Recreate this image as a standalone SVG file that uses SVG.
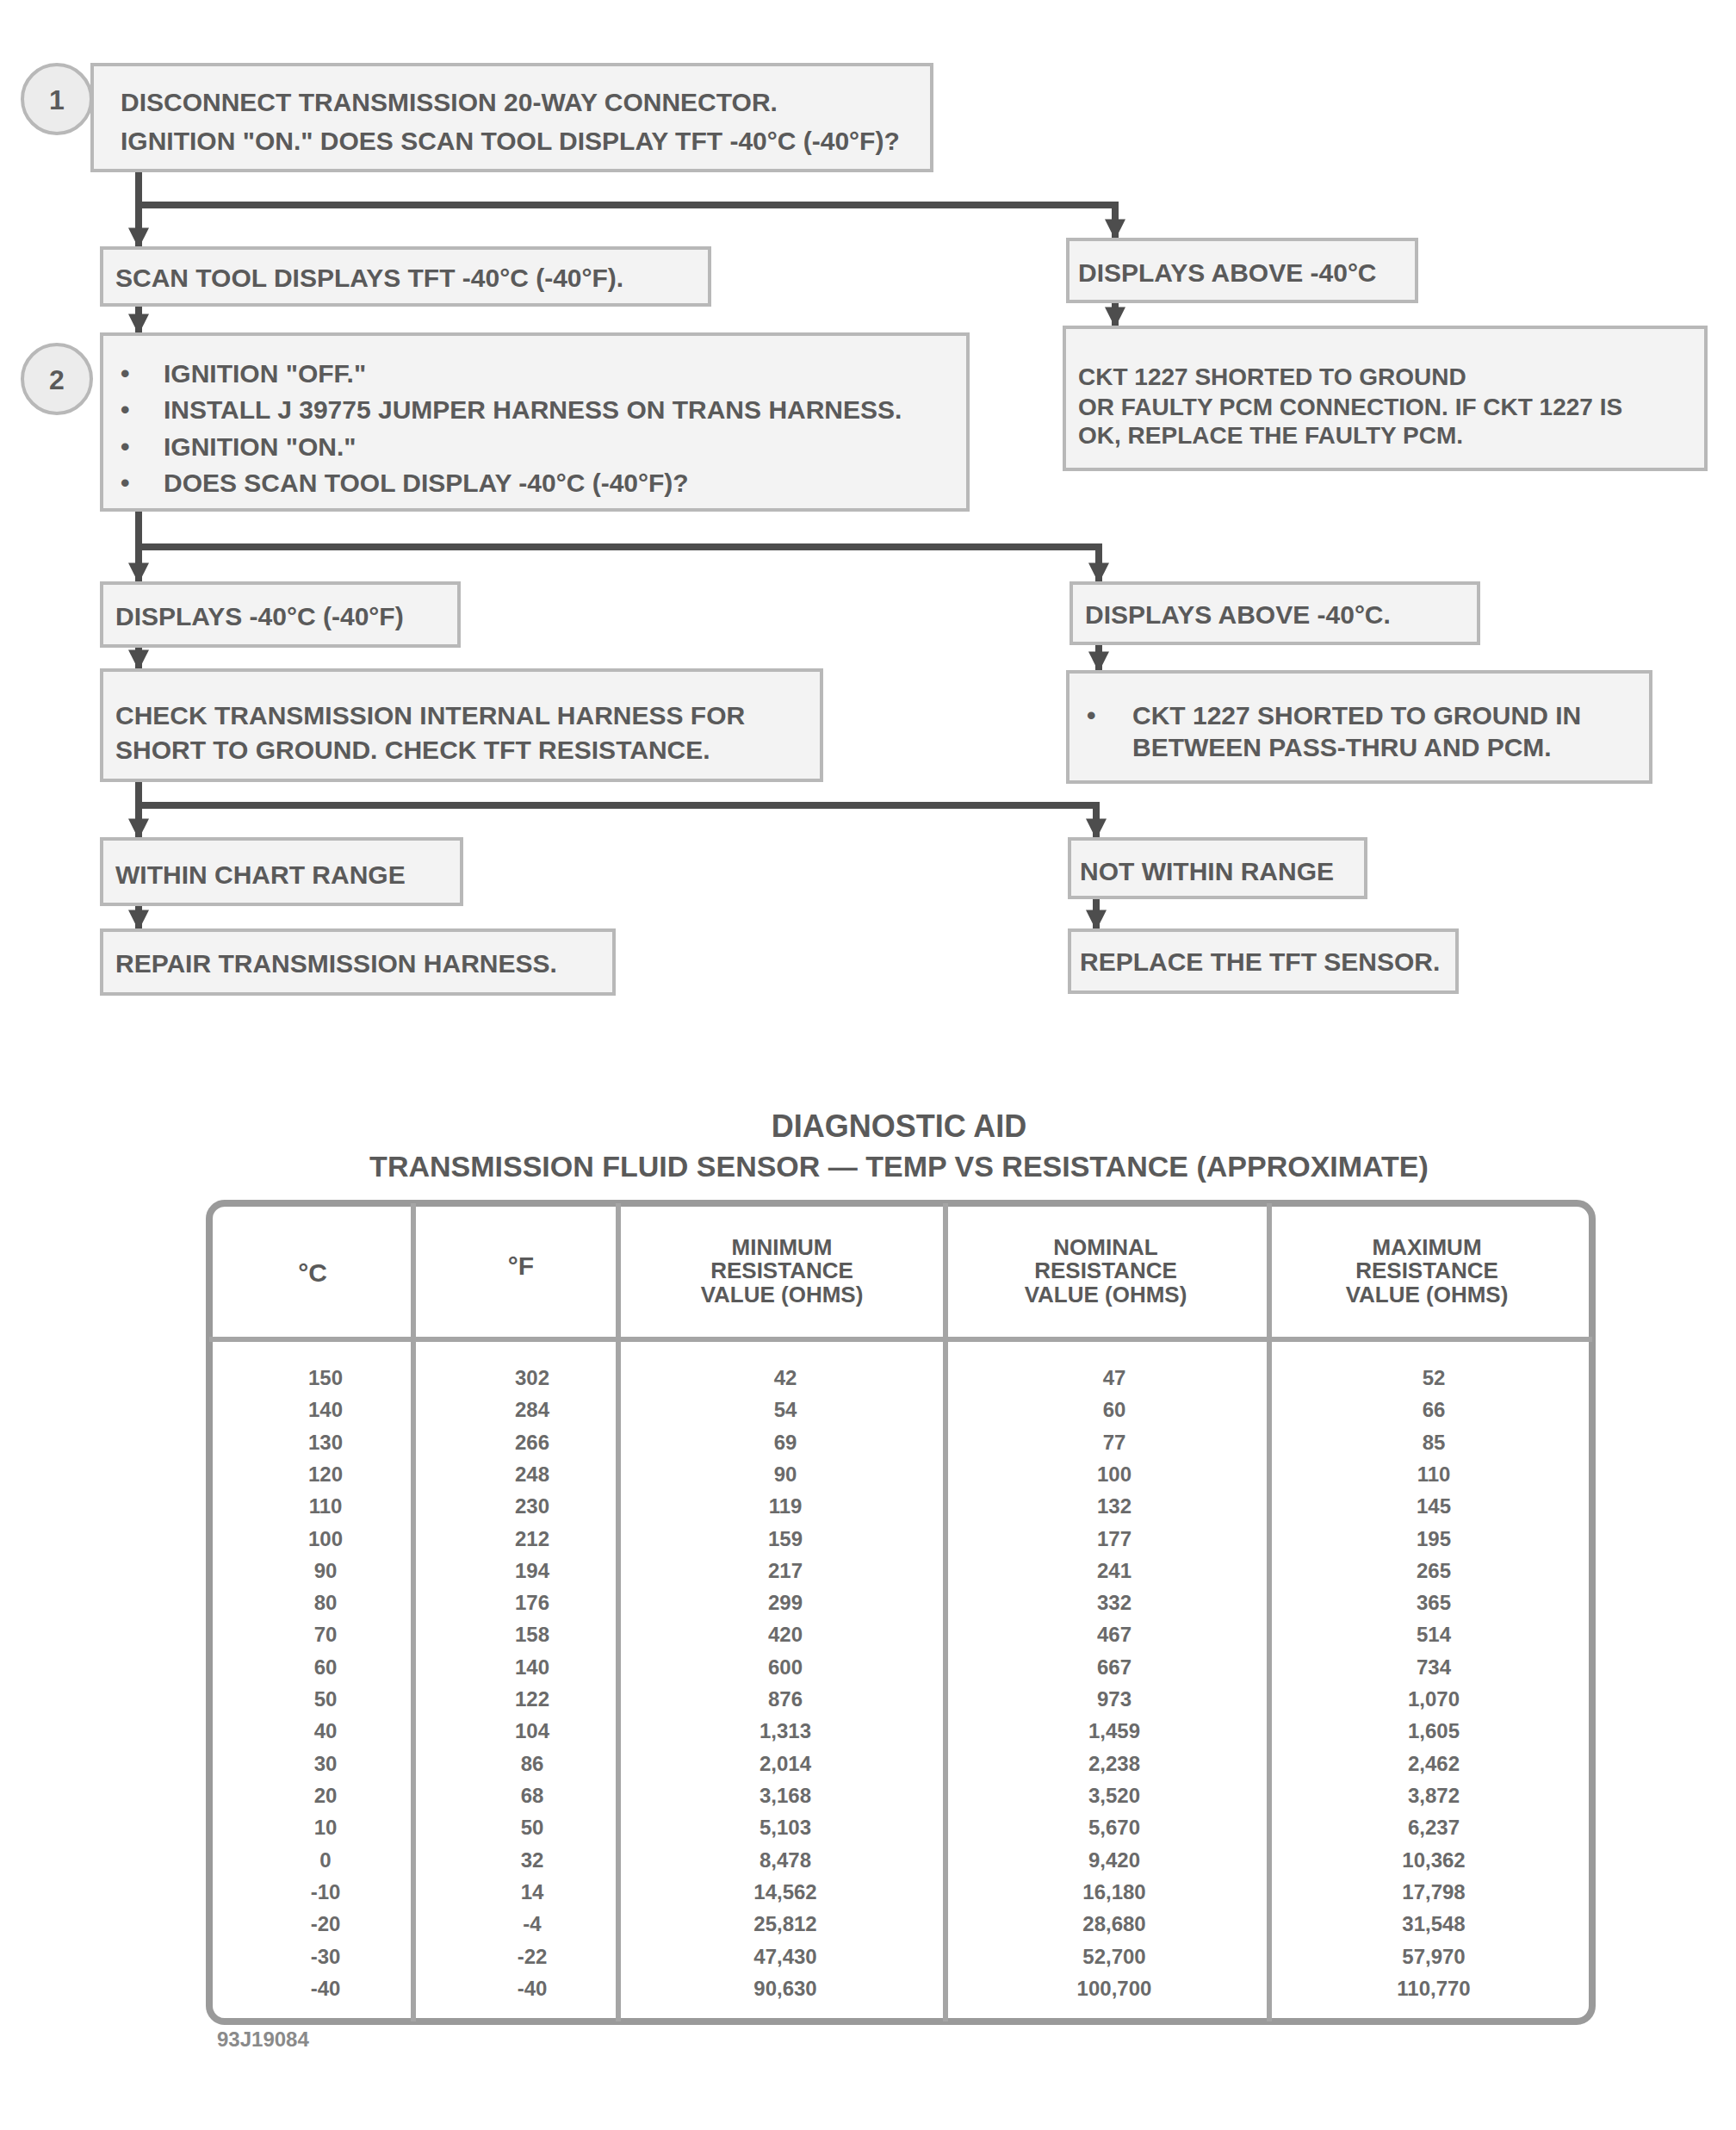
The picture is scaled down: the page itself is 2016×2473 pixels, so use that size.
<svg xmlns="http://www.w3.org/2000/svg" width="2016" height="2473" viewBox="0 0 2016 2473">
<style>
.bx{fill:#f3f3f3;stroke:#b8b8b8;stroke-width:4}
.ci{fill:#ececec;stroke:#b8b8b8;stroke-width:4}
.t{font-family:"Liberation Sans",Arial,sans-serif;font-weight:bold;font-size:30px;fill:#5a5a5a}
.ts{font-size:28px}
.cn{fill:none;stroke:#4d4d4d;stroke-width:8;stroke-linejoin:miter}
.tt{font-family:"Liberation Sans",Arial,sans-serif;font-weight:bold;fill:#5a5a5a;text-anchor:middle}
.hd{font-size:26px}
.dt{font-family:"Liberation Sans",Arial,sans-serif;font-weight:bold;font-size:24px;fill:#6a6a6a;text-anchor:middle}
.tb{fill:none;stroke:#9a9a9a;stroke-width:8}
.tl{stroke:#a5a5a5;stroke-width:6}
</style>
<defs>
<marker id="ah" viewBox="0 0 10 10" refX="9" refY="5" markerWidth="3" markerHeight="3" orient="auto" markerUnits="strokeWidth">
<path d="M0,0 L10,5 L0,10 z" fill="#4d4d4d"/>
</marker>
</defs>
<rect width="2016" height="2473" fill="#ffffff"/>

<g id="connectors">
<path class="cn" d="M161,198 V286" marker-end="url(#ah)"/>
<path class="cn" d="M161,238 H1295 V276" marker-end="url(#ah)"/>
<path class="cn" d="M161,354 V386" marker-end="url(#ah)"/>
<path class="cn" d="M1295,350 V378" marker-end="url(#ah)"/>
<path class="cn" d="M161,592 V675" marker-end="url(#ah)"/>
<path class="cn" d="M161,635 H1276 V675" marker-end="url(#ah)"/>
<path class="cn" d="M161,750 V776" marker-end="url(#ah)"/>
<path class="cn" d="M1276,747 V778" marker-end="url(#ah)"/>
<path class="cn" d="M161,906 V972" marker-end="url(#ah)"/>
<path class="cn" d="M161,935 H1273 V972" marker-end="url(#ah)"/>
<path class="cn" d="M161,1050 V1078" marker-end="url(#ah)"/>
<path class="cn" d="M1273,1042 V1078" marker-end="url(#ah)"/>
</g>

<g id="step1">
<circle class="ci" cx="66" cy="115" r="40"/>
<text class="tt" x="66" y="127" font-size="32">1</text>
</g>
<g id="nodeA">
<rect class="bx" x="107" y="75" width="975" height="123"/>
<text class="t" x="140" y="129">DISCONNECT TRANSMISSION 20-WAY CONNECTOR.</text>
<text class="t" x="140" y="174">IGNITION "ON." DOES SCAN TOOL DISPLAY TFT -40°C (-40°F)?</text>
</g>
<g id="nodeB">
<rect class="bx" x="118" y="288" width="706" height="66"/>
<text class="t" x="134" y="333">SCAN TOOL DISPLAYS TFT -40°C (-40°F).</text>
</g>
<g id="nodeC">
<rect class="bx" x="1240" y="278" width="405" height="72"/>
<text class="t" x="1252" y="327">DISPLAYS ABOVE -40°C</text>
</g>
<g id="step2">
<circle class="ci" cx="66" cy="440" r="40"/>
<text class="tt" x="66" y="452" font-size="32">2</text>
</g>
<g id="nodeD">
<rect class="bx" x="118" y="388" width="1006" height="204"/>
<text class="t" x="140" y="444">•</text>
<text class="t" x="190" y="444">IGNITION "OFF."</text>
<text class="t" x="140" y="486">•</text>
<text class="t" x="190" y="486">INSTALL J 39775 JUMPER HARNESS ON TRANS HARNESS.</text>
<text class="t" x="140" y="529">•</text>
<text class="t" x="190" y="529">IGNITION "ON."</text>
<text class="t" x="140" y="571">•</text>
<text class="t" x="190" y="571">DOES SCAN TOOL DISPLAY -40°C (-40°F)?</text>
</g>
<g id="nodeE">
<rect class="bx" x="1236" y="380" width="745" height="165"/>
<text class="t ts" x="1252" y="447">CKT 1227 SHORTED TO GROUND</text>
<text class="t ts" x="1252" y="482">OR FAULTY PCM CONNECTION. IF CKT 1227 IS</text>
<text class="t ts" x="1252" y="515">OK, REPLACE THE FAULTY PCM.</text>
</g>
<g id="nodeF">
<rect class="bx" x="118" y="677" width="415" height="73"/>
<text class="t" x="134" y="726">DISPLAYS -40°C (-40°F)</text>
</g>
<g id="nodeG">
<rect class="bx" x="1244" y="677" width="473" height="70"/>
<text class="t" x="1260" y="724">DISPLAYS ABOVE -40°C.</text>
</g>
<g id="nodeH">
<rect class="bx" x="118" y="778" width="836" height="128"/>
<text class="t" x="134" y="841">CHECK TRANSMISSION INTERNAL HARNESS FOR</text>
<text class="t" x="134" y="881">SHORT TO GROUND. CHECK TFT RESISTANCE.</text>
</g>
<g id="nodeI">
<rect class="bx" x="1240" y="780" width="677" height="128"/>
<text class="t" x="1262" y="841">•</text>
<text class="t" x="1315" y="841">CKT 1227 SHORTED TO GROUND IN</text>
<text class="t" x="1315" y="878">BETWEEN PASS-THRU AND PCM.</text>
</g>
<g id="nodeJ">
<rect class="bx" x="118" y="974" width="418" height="76"/>
<text class="t" x="134" y="1026">WITHIN CHART RANGE</text>
</g>
<g id="nodeK">
<rect class="bx" x="1242" y="974" width="344" height="68"/>
<text class="t" x="1254" y="1022">NOT WITHIN RANGE</text>
</g>
<g id="nodeL">
<rect class="bx" x="118" y="1080" width="595" height="74"/>
<text class="t" x="134" y="1129">REPAIR TRANSMISSION HARNESS.</text>
</g>
<g id="nodeM">
<rect class="bx" x="1242" y="1080" width="450" height="72"/>
<text class="t" x="1254" y="1127">REPLACE THE TFT SENSOR.</text>
</g>

<g id="table">
<text class="tt" x="1044" y="1320" font-size="36">DIAGNOSTIC AID</text>
<text class="tt" x="1044" y="1366" font-size="34">TRANSMISSION FLUID SENSOR — TEMP VS RESISTANCE (APPROXIMATE)</text>
<rect class="tb" x="243" y="1397" width="1606" height="950" rx="18"/>
<line class="tl" x1="480" y1="1397" x2="480" y2="2347"/>
<line class="tl" x1="718" y1="1397" x2="718" y2="2347"/>
<line class="tl" x1="1098" y1="1397" x2="1098" y2="2347"/>
<line class="tl" x1="1474" y1="1397" x2="1474" y2="2347"/>
<line class="tl" x1="243" y1="1555" x2="1849" y2="1555" stroke-width="8"/>
<text class="tt" x="363" y="1488" font-size="30">°C</text>
<text class="tt" x="605" y="1480" font-size="30">°F</text>
<text class="tt hd" x="908" y="1457">MINIMUM</text>
<text class="tt hd" x="908" y="1484">RESISTANCE</text>
<text class="tt hd" x="908" y="1512">VALUE (OHMS)</text>
<text class="tt hd" x="1284" y="1457">NOMINAL</text>
<text class="tt hd" x="1284" y="1484">RESISTANCE</text>
<text class="tt hd" x="1284" y="1512">VALUE (OHMS)</text>
<text class="tt hd" x="1657" y="1457">MAXIMUM</text>
<text class="tt hd" x="1657" y="1484">RESISTANCE</text>
<text class="tt hd" x="1657" y="1512">VALUE (OHMS)</text>
<g>
<text class="dt" x="378" y="1608">150</text><text class="dt" x="618" y="1608">302</text><text class="dt" x="912" y="1608">42</text><text class="dt" x="1294" y="1608">47</text><text class="dt" x="1665" y="1608">52</text>
<text class="dt" x="378" y="1645">140</text><text class="dt" x="618" y="1645">284</text><text class="dt" x="912" y="1645">54</text><text class="dt" x="1294" y="1645">60</text><text class="dt" x="1665" y="1645">66</text>
<text class="dt" x="378" y="1683">130</text><text class="dt" x="618" y="1683">266</text><text class="dt" x="912" y="1683">69</text><text class="dt" x="1294" y="1683">77</text><text class="dt" x="1665" y="1683">85</text>
<text class="dt" x="378" y="1720">120</text><text class="dt" x="618" y="1720">248</text><text class="dt" x="912" y="1720">90</text><text class="dt" x="1294" y="1720">100</text><text class="dt" x="1665" y="1720">110</text>
<text class="dt" x="378" y="1757">110</text><text class="dt" x="618" y="1757">230</text><text class="dt" x="912" y="1757">119</text><text class="dt" x="1294" y="1757">132</text><text class="dt" x="1665" y="1757">145</text>
<text class="dt" x="378" y="1795">100</text><text class="dt" x="618" y="1795">212</text><text class="dt" x="912" y="1795">159</text><text class="dt" x="1294" y="1795">177</text><text class="dt" x="1665" y="1795">195</text>
<text class="dt" x="378" y="1832">90</text><text class="dt" x="618" y="1832">194</text><text class="dt" x="912" y="1832">217</text><text class="dt" x="1294" y="1832">241</text><text class="dt" x="1665" y="1832">265</text>
<text class="dt" x="378" y="1869">80</text><text class="dt" x="618" y="1869">176</text><text class="dt" x="912" y="1869">299</text><text class="dt" x="1294" y="1869">332</text><text class="dt" x="1665" y="1869">365</text>
<text class="dt" x="378" y="1906">70</text><text class="dt" x="618" y="1906">158</text><text class="dt" x="912" y="1906">420</text><text class="dt" x="1294" y="1906">467</text><text class="dt" x="1665" y="1906">514</text>
<text class="dt" x="378" y="1944">60</text><text class="dt" x="618" y="1944">140</text><text class="dt" x="912" y="1944">600</text><text class="dt" x="1294" y="1944">667</text><text class="dt" x="1665" y="1944">734</text>
<text class="dt" x="378" y="1981">50</text><text class="dt" x="618" y="1981">122</text><text class="dt" x="912" y="1981">876</text><text class="dt" x="1294" y="1981">973</text><text class="dt" x="1665" y="1981">1,070</text>
<text class="dt" x="378" y="2018">40</text><text class="dt" x="618" y="2018">104</text><text class="dt" x="912" y="2018">1,313</text><text class="dt" x="1294" y="2018">1,459</text><text class="dt" x="1665" y="2018">1,605</text>
<text class="dt" x="378" y="2056">30</text><text class="dt" x="618" y="2056">86</text><text class="dt" x="912" y="2056">2,014</text><text class="dt" x="1294" y="2056">2,238</text><text class="dt" x="1665" y="2056">2,462</text>
<text class="dt" x="378" y="2093">20</text><text class="dt" x="618" y="2093">68</text><text class="dt" x="912" y="2093">3,168</text><text class="dt" x="1294" y="2093">3,520</text><text class="dt" x="1665" y="2093">3,872</text>
<text class="dt" x="378" y="2130">10</text><text class="dt" x="618" y="2130">50</text><text class="dt" x="912" y="2130">5,103</text><text class="dt" x="1294" y="2130">5,670</text><text class="dt" x="1665" y="2130">6,237</text>
<text class="dt" x="378" y="2168">0</text><text class="dt" x="618" y="2168">32</text><text class="dt" x="912" y="2168">8,478</text><text class="dt" x="1294" y="2168">9,420</text><text class="dt" x="1665" y="2168">10,362</text>
<text class="dt" x="378" y="2205">-10</text><text class="dt" x="618" y="2205">14</text><text class="dt" x="912" y="2205">14,562</text><text class="dt" x="1294" y="2205">16,180</text><text class="dt" x="1665" y="2205">17,798</text>
<text class="dt" x="378" y="2242">-20</text><text class="dt" x="618" y="2242">-4</text><text class="dt" x="912" y="2242">25,812</text><text class="dt" x="1294" y="2242">28,680</text><text class="dt" x="1665" y="2242">31,548</text>
<text class="dt" x="378" y="2280">-30</text><text class="dt" x="618" y="2280">-22</text><text class="dt" x="912" y="2280">47,430</text><text class="dt" x="1294" y="2280">52,700</text><text class="dt" x="1665" y="2280">57,970</text>
<text class="dt" x="378" y="2317">-40</text><text class="dt" x="618" y="2317">-40</text><text class="dt" x="912" y="2317">90,630</text><text class="dt" x="1294" y="2317">100,700</text><text class="dt" x="1665" y="2317">110,770</text>
</g>
</g>
<text id="figid" x="252" y="2376" font-family="Liberation Sans, Arial, sans-serif" font-weight="bold" font-size="24" fill="#8a8a8a">93J19084</text>
</svg>
